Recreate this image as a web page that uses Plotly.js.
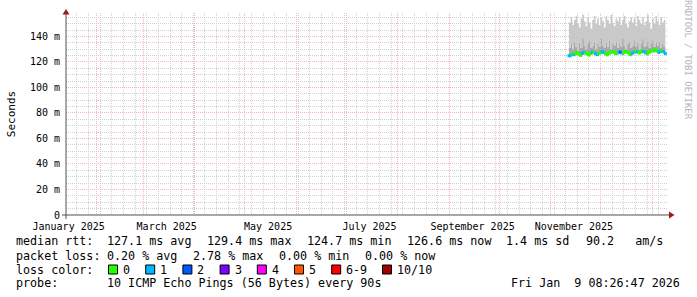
<!DOCTYPE html>
<html><head><meta charset="utf-8">
<script src="https://cdn.plot.ly/plotly-3.0.1.min.js"></script>
<style>html,body{margin:0;padding:0;background:#fff}</style>
</head><body><div id="chart" style="width:697px;height:297px"></div>
<script>
// ---------- data ----------
const dates = ['2025-11-12','2025-11-13','2025-11-14','2025-11-15','2025-11-16','2025-11-17','2025-11-18','2025-11-19','2025-11-20','2025-11-21',
'2025-11-22','2025-11-23','2025-11-24','2025-11-25','2025-11-26','2025-11-27','2025-11-28','2025-11-29','2025-11-30',
'2025-12-01','2025-12-02','2025-12-03','2025-12-04','2025-12-05','2025-12-06','2025-12-07','2025-12-08','2025-12-09','2025-12-10',
'2025-12-11','2025-12-12','2025-12-13','2025-12-14','2025-12-15','2025-12-16','2025-12-17','2025-12-18','2025-12-19','2025-12-20',
'2025-12-21','2025-12-22','2025-12-23','2025-12-24','2025-12-25','2025-12-26','2025-12-27','2025-12-28','2025-12-29','2025-12-30','2025-12-31',
'2026-01-01','2026-01-02','2026-01-03','2026-01-04','2026-01-05','2026-01-06','2026-01-07','2026-01-08','2026-01-09'];
// median rtt (ms)
const median = [124.9,125.3,126.2,125.8,126.9,127.4,126.1,125.2,126.8,127.6,127.0,126.3,125.6,126.9,127.8,127.2,126.5,125.9,126.7,127.5,
128.1,127.3,126.4,125.7,126.8,127.9,128.3,127.4,126.6,127.2,128.0,127.6,126.9,127.4,128.2,127.8,126.8,125.8,126.9,127.7,
128.4,127.9,127.1,127.8,128.6,128.1,127.3,126.5,127.6,128.5,129.1,128.7,129.4,128.6,127.5,128.4,128.9,127.9,126.6];
// smoke: lowest ping, upper edge of the dense part, highest ping (ms)
const smokeMin = [123.6,124.0,124.9,124.5,125.5,126.0,124.8,123.9,125.4,126.1,125.7,125.0,124.3,125.5,126.4,125.9,125.1,124.6,125.4,126.1,
126.8,126.0,125.1,124.4,125.5,126.5,127.0,126.1,125.3,125.9,126.7,126.3,125.6,126.1,126.9,126.5,125.5,124.5,125.6,126.4,
127.1,126.6,125.8,126.5,127.3,126.8,126.0,125.2,126.3,127.2,127.8,127.4,128.1,127.3,126.2,127.1,127.6,126.6,125.3];
const smokeMid = [131,134,130,136,132,129,135,131,138,133,130,134,137,131,133,136,130,134,132,139,133,131,135,132,137,130,134,133,136,131,
135,132,138,133,130,134,136,131,133,137,132,135,130,134,138,132,133,136,131,134,137,132,135,133,136,131,134,132,130];
const smokeMax = [151,155,149,153,156,150,147,154,157,152,148,155,151,146,153,156,150,154,149,155,152,147,156,153,150,157,151,148,154,152,
155,149,153,156,150,147,152,155,151,154,148,156,153,150,155,149,152,157,151,146,154,150,156,152,149,155,151,153,150];
// lost pings out of 10
const loss = [1,1,0,1,0,0,0,0,1,1,0,0,0,0,1,0,1,1,0,0,1,1,0,0,0,0,0,0,0,0,1,2,1,0,0,0,0,0,1,1,0,1,0,0,0,1,1,0,0,0,0,0,0,0,1,1,0,1,1];

const lossLabels = ['0','1','2','3','4','5','6-9','10/10'];
const lossColors = ['#26ff00','#00b8ff','#0059ff','#7e00ff','#ff00ff','#ff5500','#ff0000','#a10000'];

const yTickVals = [0,20,40,60,80,100,120,140];
const yTickText = ['0','20 m','40 m','60 m','80 m','100 m','120 m','140 m'];
const xLabelDates = ['2025-01-15','2025-03-15','2025-05-15','2025-07-15','2025-09-15','2025-11-15'];
const xLabelText = ['January 2025','March 2025','May 2025','July 2025','September 2025','November 2025'];

const legendRows = [
  [['median rtt:',16],['127.1 ms avg',107],['129.4 ms max',207],['124.7 ms min',307],['126.6 ms now',407],['1.4 ms sd',506],['90.2   am/s',586]],
  [['packet loss:',16],['0.20 % avg',107],['2.78 % max',193],['0.00 % min',279],['0.00 % now',365]],
  [['loss color:',16]],
  [['probe:',16],['10 ICMP Echo Pings (56 Bytes) every 90s',107]]
];
const rowY = [241.5,255.5,269.5,283];
const swatchX = [108,145.2,182.4,219.6,256.8,294,331.2,382];
const stamp = 'Fri Jan  9 08:26:47 2026';

// ---------- layout helpers (pixel -> paper) ----------
const L=66, R=668, T=13, B=215;
const px = p => (p-L)/(R-L);
const py = p => (B-p)/(B-T);
const nb = s => s.replace(/ /g,'\u00a0');
const MONO = 'DejaVu Sans Mono';
const RED = '#f1b9b9', GREY = '#d0d0d0', DOT = '1px,1px';

const lossIdx = l => l>=10 ? 7 : (l>=6 ? 6 : l);

const traces = [
  {x:dates, y:smokeMin, mode:'lines', line:{width:0, shape:'hv'}, hoverinfo:'skip', showlegend:false},
  {x:dates, y:smokeMid, mode:'lines', line:{width:0, shape:'hv'}, fill:'tonexty', fillcolor:'#a9a9a9', hoverinfo:'skip', showlegend:false},
  {x:dates, y:smokeMax, mode:'lines', line:{width:0, shape:'hv'}, fill:'tonexty', fillcolor:'#c9c9c9', hoverinfo:'skip', showlegend:false},
  {x:dates, y:median, mode:'markers', marker:{symbol:'square', size:3, line:{width:0}, color:loss.map(l=>lossColors[lossIdx(l)])}, hoverinfo:'skip', showlegend:false},
  {x:[xLabelDates[0]], y:[null], xaxis:'x2', yaxis:'y', mode:'markers', hoverinfo:'skip', showlegend:false}
];

const xRange = ['2025-01-13 10:00','2026-01-10 14:00'];

const annotations = [];
legendRows.forEach((row,i)=>row.forEach(([t,x])=>annotations.push({
  text:nb(t), x:px(x), y:py(rowY[i]), xref:'paper', yref:'paper', xanchor:'left', yanchor:'middle',
  showarrow:false, borderpad:0, borderwidth:0, font:{family:MONO, size:11.7, color:'#000'}})));
lossLabels.forEach((t,i)=>annotations.push({
  text:nb(t), x:px(swatchX[i]+15), y:py(rowY[2]), xref:'paper', yref:'paper', xanchor:'left', yanchor:'middle',
  showarrow:false, borderpad:0, borderwidth:0, font:{family:MONO, size:11.7, color:'#000'}}));
annotations.push({text:nb(stamp), x:px(680), y:py(rowY[3]), xref:'paper', yref:'paper', xanchor:'right', yanchor:'middle',
  showarrow:false, borderpad:0, borderwidth:0, font:{family:MONO, size:11.7, color:'#000'}});
annotations.push({text:'RRDTOOL / TOBI OETIKER', textangle:90, x:px(688), y:py(60), xref:'paper', yref:'paper',
  xanchor:'center', yanchor:'middle', showarrow:false, borderpad:0, borderwidth:0, font:{family:MONO, size:9, color:'#b4b4b4'}});

const shapes = [
  {type:'line', xref:'paper', yref:'paper', x0:px(62), x1:px(670), y0:0, y1:0, line:{color:'#505050', width:1}},
  {type:'line', xref:'paper', yref:'paper', x0:0, x1:0, y0:py(219), y1:py(12), line:{color:'#505050', width:1}},
  {type:'path', xref:'paper', yref:'paper', path:`M ${px(669)} ${py(211.5)} L ${px(674.5)} ${py(215)} L ${px(669)} ${py(218.5)} Z`, fillcolor:'#9b1c1c', line:{width:0}},
  {type:'path', xref:'paper', yref:'paper', path:`M ${px(62.5)} ${py(14.5)} L ${px(66)} ${py(9)} L ${px(69.5)} ${py(14.5)} Z`, fillcolor:'#9b1c1c', line:{width:0}}
];
swatchX.forEach((x,i)=>shapes.push({type:'rect', xref:'paper', yref:'paper', x0:px(x+0.5), x1:px(x+9.5), y0:py(rowY[2]-4.5), y1:py(rowY[2]+4.5),
  fillcolor:lossColors[i], line:{color:'#000', width:1}}));

const layout = {
  width:697, height:297, margin:{l:L, r:697-R, t:T, b:297-B, pad:0},
  paper_bgcolor:'#ffffff', plot_bgcolor:'#ffffff', showlegend:false,
  xaxis:{type:'date', range:xRange, showgrid:true, gridcolor:RED, griddash:DOT, gridwidth:1, tickmode:'linear', dtick:'M1', tick0:'2025-01-01',
    showticklabels:false, ticks:'', zeroline:false, showline:false, fixedrange:true,
    minor:{tickmode:'linear', dtick:7*86400000, tick0:'2025-01-06', showgrid:true, gridcolor:GREY, griddash:DOT, gridwidth:1, ticks:''}},
  xaxis2:{type:'date', overlaying:'x', anchor:'y', side:'bottom', range:xRange, showgrid:false, tickmode:'array', tickvals:xLabelDates, ticktext:xLabelText,
    ticks:'outside', ticklen:2, tickcolor:'rgba(0,0,0,0)', tickfont:{family:MONO, size:10, color:'#000'}, zeroline:false, showline:false},
  yaxis:{range:[0,158.4], tickmode:'array', tickvals:yTickVals, ticktext:yTickText, showgrid:true, gridcolor:RED, griddash:DOT, gridwidth:1,
    minor:{tickmode:'linear', tick0:0, dtick:5, showgrid:true, gridcolor:GREY, griddash:DOT, gridwidth:1, ticks:''},
    ticks:'outside', ticklen:3, tickcolor:'rgba(0,0,0,0)', tickfont:{family:MONO, size:10, color:'#000'}, zeroline:false, showline:false,
    title:{text:'Seconds', font:{family:MONO, size:11, color:'#000'}, standoff:12}},
  annotations, shapes
};
Plotly.newPlot('chart', traces, layout, {displayModeBar:false, staticPlot:true});
</script></body></html>
